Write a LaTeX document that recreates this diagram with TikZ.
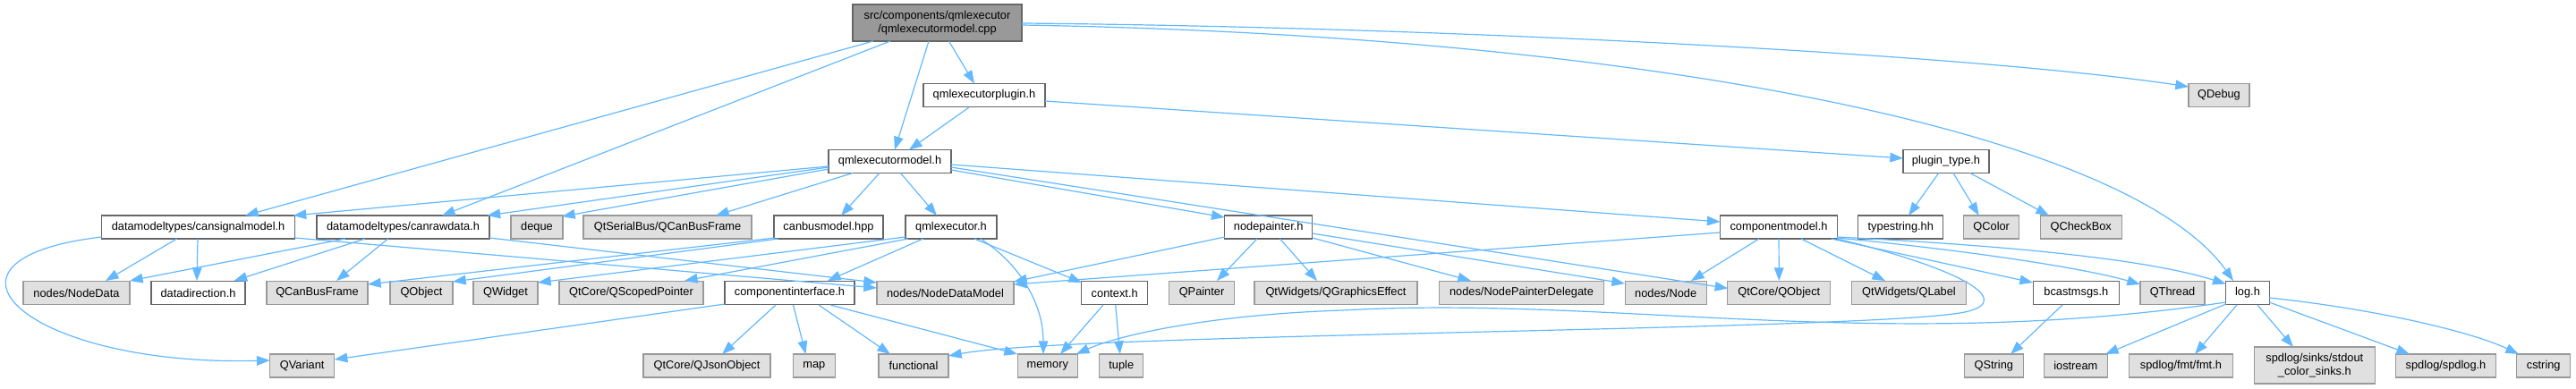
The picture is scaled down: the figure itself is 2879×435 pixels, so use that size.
\documentclass[tikz,border=0pt]{standalone}
\usepackage{fontspec}
\setmainfont{Liberation Sans}
\usetikzlibrary{arrows.meta,calc}
\definecolor{edgec}{HTML}{63B8FF}
\definecolor{intb}{HTML}{666666}
\definecolor{extf}{HTML}{E0E0E0}
\definecolor{extb}{HTML}{999999}
\definecolor{rootf}{HTML}{999999}
\begin{document}
\begin{tikzpicture}[x=0.75pt,y=-0.75pt,
  box/.style={draw=intb, fill=white, line width=0.9pt, inner sep=0pt, minimum height=19.5pt,
              font=\fontsize{9.6}{11.5}\selectfont, align=center, text=black},
  ext/.style={box, draw=extb, fill=extf},
  rootbox/.style={box, draw=intb, fill=rootf, minimum height=30.75pt},
  wd/.style={minimum width=#1*0.75pt},
  dep/.style={draw=edgec, line width=0.9pt, -{Triangle[length=11pt,width=8pt]}},
]
\useasboundingbox (0,0) rectangle (2879,435);

% row 0-2
\node[rootbox, wd=189] (root) at (1047.5,25.5) {src/components/qmlexecutor\\/qmlexecutormodel.cpp};
\node[box, wd=136] (qep) at (1100,106.5) {qmlexecutorplugin.h};
\node[ext, wd=68] (qdebug) at (2480,106.5) {QDebug};
\node[box, wd=137] (qem) at (994.5,180.5) {qmlexecutormodel.h};
\node[box, wd=96] (plugin) at (2175,180.5) {plugin\_type.h};

% row 3
\node[box, wd=216] (csm) at (221.6,254) {datamodeltypes/cansignalmodel.h};
\node[box, wd=193] (crd) at (450.5,254) {datamodeltypes/canrawdata.h};
\node[ext, wd=58] (deque) at (600,254) {deque};
\node[ext, wd=188] (qsbus) at (746,254) {QtSerialBus/QCanBusFrame};
\node[box, wd=122] (cbm) at (926,254) {canbusmodel.hpp};
\node[box, wd=102] (qex) at (1063,254) {qmlexecutor.h};
\node[box, wd=98] (np) at (1417.7,254) {nodepainter.h};
\node[box, wd=131] (cm) at (1988,254) {componentmodel.h};
\node[box, wd=95] (typestr) at (2124.3,254) {typestring.hh};
\node[ext, wd=62] (qcolor) at (2225.7,254) {QColor};
\node[ext, wd=91] (qcheck) at (2325.7,254) {QCheckBox};

% row 4
\node[ext, wd=119] (ndata) at (85.5,327.5) {nodes/NodeData};
\node[box, wd=105] (ddir) at (221.5,327.5) {datadirection.h};
\node[ext, wd=113] (qcanbus) at (354.5,327.5) {QCanBusFrame};
\node[ext, wd=70] (qobject) at (471,327.5) {QObject};
\node[ext, wd=72] (qwidget) at (565,327.5) {QWidget};
\node[ext, wd=161] (qscoped) at (705.5,327.5) {QtCore/QScopedPointer};
\node[box, wd=145] (ci) at (882.5,327.5) {componentinterface.h};
\node[ext, wd=153] (ndm) at (1056.5,327.5) {nodes/NodeDataModel};
\node[box, wd=74] (ctx) at (1245.7,327.5) {context.h};
\node[ext, wd=73] (qpainter) at (1343,327.5) {QPainter};
\node[ext, wd=182] (qge) at (1493,327.5) {QtWidgets/QGraphicsEffect};
\node[ext, wd=184] (npd) at (1700.5,327.5) {nodes/NodePainterDelegate};
\node[ext, wd=91] (nnode) at (1861.7,327.5) {nodes/Node};
\node[ext, wd=115] (qtobj) at (1988.3,327.5) {QtCore/QObject};
\node[ext, wd=128] (qlabel) at (2133.5,327.5) {QtWidgets/QLabel};
\node[box, wd=96] (bcast) at (2320.3,327.5) {bcastmsgs.h};
\node[ext, wd=72] (qthread) at (2428,327.5) {QThread};
\node[box, wd=49] (log) at (2512,327.5) {log.h};

% row 5
\node[ext, wd=72] (qvariant) at (337.7,409) {QVariant};
\node[ext, wd=142] (qjson) at (790,409) {QtCore/QJsonObject};
\node[ext, wd=47] (map) at (909.8,409) {map};
\node[ext, wd=78] (func) at (1021,409) {functional};
\node[ext, wd=67] (mem) at (1170.8,409) {memory};
\node[ext, wd=49] (tuple) at (1253.3,409) {tuple};
\node[ext, wd=66] (qstring) at (2228.3,409) {QString};
\node[ext, wd=71] (iostr) at (2319.8,409) {iostream};
\node[ext, wd=116] (fmt) at (2437.4,409) {spdlog/fmt/fmt.h};
\node[ext, wd=135, minimum height=30.75pt] (sinks) at (2586.8,408.5) {spdlog/sinks/stdout\\\_color\_sinks.h};
\node[ext, wd=112] (spdlog) at (2733.5,409) {spdlog/spdlog.h};
\node[ext, wd=60] (cstring) at (2842.7,409) {cstring};

% root edges
\draw[dep] ($(root)+(-9.5,20.5)$) -- ($(qem)+(5.5,-13)$);
\draw[dep] ($(root)+(13,20.5)$) -- ($(qep)+(-11,-13)$);
\draw[dep] ($(root)+(-71.5,20.5)$) -- ($(csm)+(52.4,-13)$);
\draw[dep] ($(root)+(-52.5,20.5)$) -- ($(crd)+(43.5,-13)$);
\draw[dep] ($(root)+(94.5,0.5)$) .. controls (1600,30) and (2200,60) .. ($(qdebug)+(-34,-9.5)$);
\draw[dep] ($(root)+(94.5,2.5)$) .. controls (1850,40) and (2380,150) .. ($(log)+(-16,-13.5)$);

% qmlexecutorplugin.h
\draw[dep] ($(qep)+(-17,13.5)$) -- ($(qem)+(21.5,-13)$);
\draw[dep] ($(qep)+(68,6.5)$) -- ($(plugin)+(-48,-3.5)$);

% qmlexecutormodel.h
\draw[dep] ($(qem)+(-68.5,5.5)$) -- ($(csm)+(106,-13)$);
\draw[dep] ($(qem)+(-68.5,6.5)$) -- ($(crd)+(94,-13)$);
\draw[dep] ($(qem)+(-68.5,8.5)$) -- ($(deque)+(28,-12)$);
\draw[dep] ($(qem)+(-41.5,13)$) -- ($(qsbus)+(54,-13)$);
\draw[dep] ($(qem)+(-11.5,13)$) -- ($(cbm)+(14,-13)$);
\draw[dep] ($(qem)+(12,13)$) -- ($(qex)+(-16,-13)$);
\draw[dep] ($(qem)+(68.5,9.5)$) -- ($(np)+(-49,-11)$);
\draw[dep] ($(qem)+(68.5,6.5)$) -- ($(qtobj)+(-57,-5)$);
\draw[dep] ($(qem)+(68.5,3.5)$) -- ($(cm)+(-65.5,-6)$);

% cansignalmodel.h
\draw[dep] ($(csm)+(-24,13)$) -- ($(ndata)+(32.5,-13.5)$);
\draw[dep] ($(csm)+(-0.6,13)$) -- ($(ddir)+(-1.5,-13.5)$);
\draw[dep] ($(csm)+(-108,11)$) .. controls (-100,290) and (30,410) .. ($(qvariant)+(-36,-6)$);
\draw[dep] ($(csm)+(108,12)$) -- ($(ndm)+(-76.5,-5.5)$);

% canrawdata.h
\draw[dep] ($(crd)+(-64.7,13)$) -- ($(ndata)+(59.5,-13.5)$);
\draw[dep] ($(crd)+(-42.5,13)$) -- ($(ddir)+(40,-13.5)$);
\draw[dep] ($(crd)+(-16.8,13)$) -- ($(qcanbus)+(21.5,-13.5)$);
\draw[dep] ($(crd)+(96.5,12)$) -- ($(ndm)+(-76.5,-11.5)$);

% canbusmodel.hpp
\draw[dep] ($(cbm)+(-60,12)$) -- ($(qcanbus)+(56.5,-9.5)$);
\draw[dep] ($(cbm)+(-56,13)$) -- ($(qobject)+(35,-12.5)$);

% qmlexecutor.h
\draw[dep] ($(qex)+(-51,11)$) -- ($(qwidget)+(36,-11.5)$);
\draw[dep] ($(qex)+(-48,13)$) -- ($(qscoped)+(59.5,-13.5)$);
\draw[dep] ($(qex)+(-31.3,13)$) -- ($(ci)+(42.5,-13.5)$);
\draw[dep] ($(qex)+(26,13)$) -- ($(ctx)+(-36.7,-11.5)$);
\draw[dep] ($(qex)+(32.7,13)$) .. controls (1140,295) and (1166,340) .. ($(mem)+(-4.8,-13)$);

% nodepainter.h
\draw[dep] ($(np)+(-49,11)$) -- ($(ndm)+(76.5,-12.5)$);
\draw[dep] ($(np)+(-12.7,13)$) -- ($(qpainter)+(17,-13.5)$);
\draw[dep] ($(np)+(12.8,13)$) -- ($(qge)+(-21,-13.5)$);
\draw[dep] ($(np)+(49,12)$) -- ($(npd)+(-56.5,-13.5)$);
\draw[dep] ($(np)+(49,7)$) -- ($(nnode)+(-45.7,-10.5)$);

% componentmodel.h
\draw[dep] ($(cm)+(-65.5,6)$) -- ($(ndm)+(76.5,-9.5)$);
\draw[dep] ($(cm)+(-22,13)$) -- ($(nnode)+(28.3,-13.5)$);
\draw[dep] ($(cm)+(0,13)$) -- ($(qtobj)+(0,-13.5)$);
\draw[dep] ($(cm)+(25,13)$) -- ($(qlabel)+(-26.5,-13.5)$);
\draw[dep] ($(cm)+(58.7,13)$) -- ($(bcast)+(-48.3,-11.5)$);
\draw[dep] ($(cm)+(65,12)$) .. controls (2200,280) and (2330,300) .. ($(qthread)+(-36,-9.5)$);
\draw[dep] ($(cm)+(65,11)$) .. controls (2250,275) and (2400,290) .. ($(log)+(-24.3,-10)$);
\draw[dep] ($(cm)+(65,13)$) .. controls (2190,300) and (2250,335) .. (2200,348)
           .. controls (2120,370) and (1200,372) .. ($(func)+(39,-11)$);

% plugin_type.h
\draw[dep] ($(plugin)+(-8.3,13)$) -- ($(typestr)+(8.7,-13)$);
\draw[dep] ($(plugin)+(8,13)$) -- ($(qcolor)+(-14,-13)$);
\draw[dep] ($(plugin)+(26.7,13)$) -- ($(qcheck)+(-35.7,-13)$);

% context.h
\draw[dep] ($(ctx)+(-12.7,13.5)$) -- ($(mem)+(14.2,-13)$);
\draw[dep] ($(ctx)+(1,13.5)$) -- ($(tuple)+(-1.6,-13)$);

% componentinterface.h
\draw[dep] ($(ci)+(-72.5,12.5)$) -- ($(qvariant)+(36,-7)$);
\draw[dep] ($(ci)+(-15.5,13.5)$) -- ($(qjson)+(17,-13)$);
\draw[dep] ($(ci)+(4,13.5)$) -- ($(map)+(-9.3,-13)$);
\draw[dep] ($(ci)+(32.5,13.5)$) -- ($(func)+(-26,-13)$);
\draw[dep] ($(ci)+(45.5,13.5)$) -- ($(mem)+(-33.8,-13)$);

% bcastmsgs.h
\draw[dep] ($(bcast)+(-15.3,13.5)$) -- ($(qstring)+(18.7,-13)$);

% log.h
\draw[dep] ($(log)+(-24.3,10.5)$) .. controls (2100,395) and (1800,330) .. (1500,347)
           .. controls (1350,352) and (1250,375) .. ($(mem)+(32,-13)$);
\draw[dep] ($(log)+(-24.3,12.5)$) -- ($(iostr)+(33.2,-13)$);
\draw[dep] ($(log)+(-12,13.5)$) -- ($(fmt)+(15.6,-13)$);
\draw[dep] ($(log)+(11,13.5)$) -- ($(sinks)+(-23.8,-20.5)$);
\draw[dep] ($(log)+(24.3,10.5)$) -- ($(spdlog)+(-40.5,-13)$);
\draw[dep] ($(log)+(24.3,5.5)$) .. controls (2650,345) and (2760,370) .. ($(cstring)+(-27.7,-13)$);
\end{tikzpicture}
\end{document}
